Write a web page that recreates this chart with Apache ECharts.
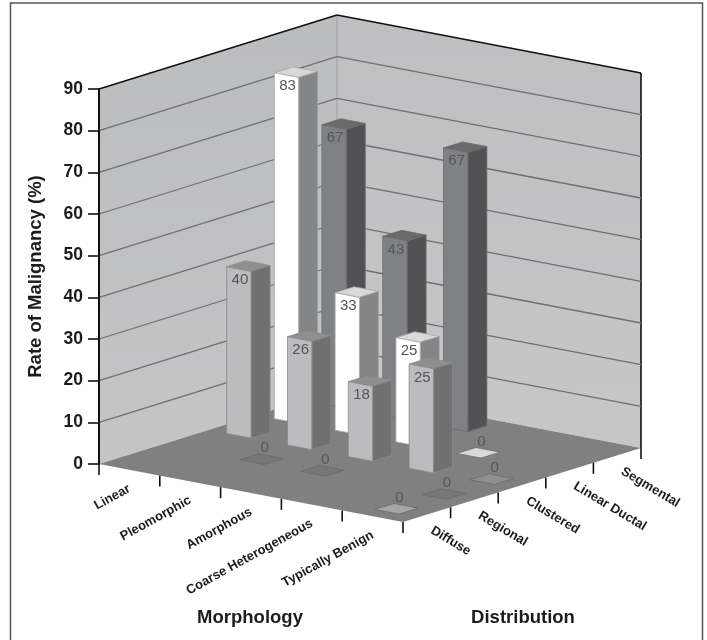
<!DOCTYPE html>
<html>
<head>
<meta charset="utf-8">
<title>Rate of Malignancy</title>
<style>
  html, body { margin: 0; padding: 0; background: #fff; }
  #main { width: 707px; height: 640px; }
</style>
<script src="https://cdn.jsdelivr.net/npm/echarts@6/dist/echarts.min.js"></script>
</head>
<body>
<div id="main"></div>
<script>
const morphology = ['Linear', 'Pleomorphic', 'Amorphous', 'Coarse Heterogeneous', 'Typically Benign'];
const distribution = ['Diffuse', 'Regional', 'Clustered', 'Linear Ductal', 'Segmental'];
const valueTicks = [10, 20, 30, 40, 50, 60, 70, 80];

// rate per morphology, null = no bar drawn in that cell
const diffuseRates = [null, null, null, null, 0];
const regionalRates = [null, 0, 0, null, 0];
const clusteredRates = [40, 26, 18, 25, 0];
const linearDuctalRates = [83, 33, 25, 0, null];
const segmentalRates = [67, 43, 67, null, null];
const ratesByDistribution = [diffuseRates, regionalRates, clusteredRates, linearDuctalRates, segmentalRates];

// face colours per distribution
const barColors = [
  { top: '#a6a6a6', front: '#bcbcbe', side: '#6f6f70', line: '#8c8c8c' },
  { top: '#777777', front: '#808080', side: '#555555', line: '#666666' },
  { top: '#8f8f8f', front: '#bcbcbe', side: '#707071', line: '#8a8a8a' },
  { top: '#d9d9d9', front: '#ffffff', side: '#848587', line: '#a8a8a8' },
  { top: '#6a6a6b', front: '#808184', side: '#525254', line: '#6c6c6c' }
];

// oblique projection: morphology runs along the x axis and sinks, distribution shifts up and right
const MORPH_DY = 11.6;
const DIST_DX = 47.6;
const DIST_DY = 14.8;
const BAR_INSET = 0.3;
const MAX_VALUE = 90;
const CELLS = 5;

function project(api, m, d, v) {
  const p = api.coord([m, v]);
  return [p[0] + d * DIST_DX, p[1] + m * MORPH_DY - d * DIST_DY];
}

function polygon(points, fill, stroke, lineWidth) {
  return {
    type: 'polygon',
    shape: { points: points },
    style: { fill: fill, stroke: stroke || null, lineWidth: lineWidth || 0 }
  };
}

function line(a, b, stroke, lineWidth) {
  return {
    type: 'line',
    shape: { x1: a[0], y1: a[1], x2: b[0], y2: b[1] },
    style: { stroke: stroke, lineWidth: lineWidth }
  };
}

function wallFill(topColor, bottomColor) {
  return new echarts.graphic.LinearGradient(0, 0, 0, 1, [
    { offset: 0, color: topColor },
    { offset: 1, color: bottomColor }
  ]);
}

function renderRoom(params, api) {
  const p = (m, d, v) => project(api, m, d, v);
  const children = [
    polygon([p(0, 0, 0), p(0, CELLS, 0), p(0, CELLS, MAX_VALUE), p(0, 0, MAX_VALUE)], wallFill('#bbbcbe', '#c5c5c6')),
    polygon([p(0, CELLS, 0), p(CELLS, CELLS, 0), p(CELLS, CELLS, MAX_VALUE), p(0, CELLS, MAX_VALUE)], wallFill('#bfbfc1', '#c7c7c8')),
    polygon([p(0, 0, 0), p(CELLS, 0, 0), p(CELLS, CELLS, 0), p(0, CELLS, 0)], '#808081'),
    line(p(0, CELLS, 0), p(0, CELLS, MAX_VALUE), '#a0a0a2', 1),
    line(p(0, 0, MAX_VALUE), p(0, CELLS, MAX_VALUE), '#111', 1.6),
    line(p(0, CELLS, MAX_VALUE), p(CELLS, CELLS, MAX_VALUE), '#111', 1.6),
    line(p(CELLS, CELLS, MAX_VALUE), p(CELLS, CELLS, 0), '#111', 1.6)
  ];
  return { type: 'group', children: children };
}

function renderGridLine(params, api) {
  const v = api.value(0);
  return {
    type: 'group',
    children: [
      line(project(api, 0, 0, v), project(api, 0, CELLS, v), '#6f6f71', 1.3),
      line(project(api, 0, CELLS, v), project(api, CELLS, CELLS, v), '#6f6f71', 1.3)
    ]
  };
}

function renderMorphologyTick(params, api) {
  const i = params.dataIndex;
  const tick = project(api, i, 0, 0);
  const mid = project(api, i + 0.5, 0, 0);
  const children = [line(tick, [tick[0], tick[1] + 11], '#111', 1.6)];
  children.push({
    type: 'text',
    x: mid[0],
    y: mid[1] + 18,
    rotation: 29 * Math.PI / 180,
    style: {
      text: morphology[i],
      font: 'bold 13px "Liberation Sans", Arial, sans-serif',
      fill: '#1c1c1c',
      align: 'right',
      verticalAlign: 'middle'
    }
  });
  return { type: 'group', children: children };
}

function renderDistributionTick(params, api) {
  const i = params.dataIndex;
  const tick = project(api, CELLS, i, 0);
  const mid = project(api, CELLS, i + 0.5, 0);
  const children = [line(tick, [tick[0], tick[1] + 11], '#111', 1.6)];
  if (i === CELLS - 1) {
    const end = project(api, CELLS, CELLS, 0);
    children.push(line(end, [end[0], end[1] + 11], '#111', 1.6));
  }
  children.push({
    type: 'text',
    x: mid[0] + 5,
    y: mid[1] + 15,
    rotation: -31 * Math.PI / 180,
    style: {
      text: distribution[i],
      font: 'bold 13px "Liberation Sans", Arial, sans-serif',
      fill: '#1c1c1c',
      align: 'left',
      verticalAlign: 'middle'
    }
  });
  return { type: 'group', children: children };
}

function makeBarRenderer(d) {
  const color = barColors[d];
  return function (params, api) {
    const m = api.value(0);
    const v = api.value(1);
    const m0 = m + BAR_INSET;
    const m1 = m + 1 - BAR_INSET;
    const d0 = d + BAR_INSET;
    const d1 = d + 1 - BAR_INSET;
    const top = [project(api, m0, d0, v), project(api, m1, d0, v), project(api, m1, d1, v), project(api, m0, d1, v)];
    const labelStyle = {
      font: '15px "Liberation Sans", Arial, sans-serif',
      fill: '#55565a',
      align: 'center',
      verticalAlign: 'middle'
    };
    if (v === 0) {
      const c = project(api, m + 0.5, d + 0.5, 0);
      return {
        type: 'group',
        children: [
          polygon(top, color.top, '#6a6a6a', 0.8),
          { type: 'text', x: c[0] + 3, y: c[1] - 11, style: Object.assign({ text: String(v) }, labelStyle) }
        ]
      };
    }
    const front = [project(api, m0, d0, 0), project(api, m1, d0, 0), project(api, m1, d0, v), project(api, m0, d0, v)];
    const side = [project(api, m1, d0, 0), project(api, m1, d1, 0), project(api, m1, d1, v), project(api, m1, d0, v)];
    const labelAt = project(api, m + 0.5, d0, v);
    return {
      type: 'group',
      children: [
        polygon(top, color.top, color.line, 0.8),
        polygon(side, color.side, color.line, 0.8),
        polygon(front, color.front, color.line, 0.8),
        { type: 'text', x: labelAt[0] + 1, y: labelAt[1] + 11, style: Object.assign({ text: String(v) }, labelStyle) }
      ]
    };
  };
}

// back rows first so nearer bars cover them
const barSeries = [];
for (let d = distribution.length - 1; d >= 0; d--) {
  const rows = [];
  ratesByDistribution[d].forEach(function (rate, m) {
    if (rate !== null) rows.push([m, rate]);
  });
  barSeries.push({
    type: 'custom',
    name: distribution[d],
    z: 5,
    data: rows,
    renderItem: makeBarRenderer(d)
  });
}

const chart = echarts.init(document.getElementById('main'), null, { renderer: 'canvas', width: 707, height: 640 });

chart.setOption({
  animation: false,
  backgroundColor: '#fff',
  tooltip: { show: false },
  grid: { left: 99, top: 89, width: 304, height: 375, containLabel: false },
  xAxis: { type: 'value', min: 0, max: CELLS, show: false },
  yAxis: {
    type: 'value',
    min: 0,
    max: MAX_VALUE,
    interval: 10,
    z: 10,
    name: 'Rate of Malignancy (%)',
    nameLocation: 'middle',
    nameGap: 54,
    nameRotate: 90,
    nameTextStyle: { fontFamily: 'Liberation Sans', fontWeight: 'bold', fontSize: 18.5, color: '#1c1c1c' },
    axisLine: { show: true, lineStyle: { color: '#111', width: 2 } },
    axisTick: { show: true, length: 11, lineStyle: { color: '#111', width: 1.6 } },
    axisLabel: { margin: 16, fontFamily: 'Liberation Sans', fontWeight: 'bold', fontSize: 17.5, color: '#1c1c1c' },
    splitLine: { show: false }
  },
  graphic: [
    {
      type: 'polyline',
      silent: true,
      shape: { points: [[10.5, 640], [10.5, 3], [702.5, 3], [702.5, 640]] },
      style: { fill: null, stroke: '#555', lineWidth: 1.5 }
    },
    {
      type: 'text',
      x: 250,
      y: 618,
      style: { text: 'Morphology', font: 'bold 18.5px "Liberation Sans", Arial, sans-serif', fill: '#1c1c1c', align: 'center', verticalAlign: 'middle' }
    },
    {
      type: 'text',
      x: 523,
      y: 618,
      style: { text: 'Distribution', font: 'bold 18.5px "Liberation Sans", Arial, sans-serif', fill: '#1c1c1c', align: 'center', verticalAlign: 'middle' }
    }
  ],
  series: [
    { type: 'custom', name: 'room', z: 1, data: [[0]], renderItem: renderRoom },
    { type: 'custom', name: 'grid lines', z: 2, data: valueTicks.map(function (v) { return [v]; }), renderItem: renderGridLine },
    { type: 'custom', name: 'morphology axis', z: 3, data: morphology.map(function (n, i) { return [i]; }), renderItem: renderMorphologyTick },
    { type: 'custom', name: 'distribution axis', z: 3, data: distribution.map(function (n, i) { return [i]; }), renderItem: renderDistributionTick }
  ].concat(barSeries)
});
</script>
</body>
</html>
